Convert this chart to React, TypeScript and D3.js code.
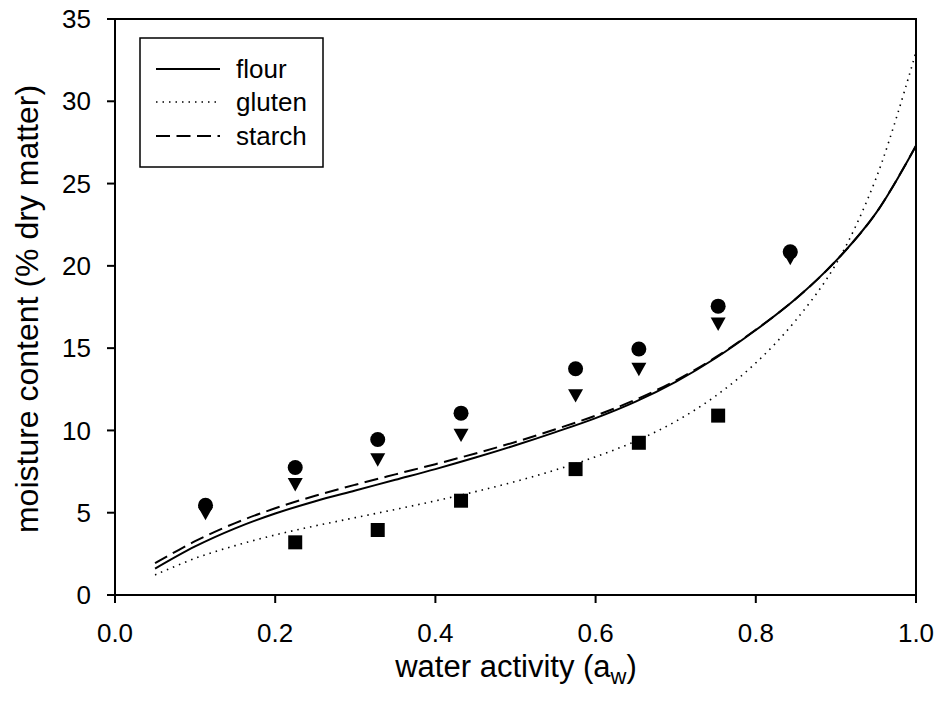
import React from "react";
import * as d3 from "d3";

// ---- data ----
const fitAw = [0.05, 0.10, 0.15, 0.20, 0.25, 0.30, 0.35, 0.40, 0.45, 0.50, 0.55, 0.60, 0.65, 0.70, 0.75, 0.80, 0.85, 0.90, 0.95, 1.00];
const flourFit = [1.6, 2.95, 4.05, 4.95, 5.7, 6.35, 7.0, 7.65, 8.35, 9.1, 9.9, 10.75, 11.75, 12.95, 14.4, 16.1, 18.0, 20.3, 23.2, 27.3];
const glutenFit = [1.22, 2.23, 3.0, 3.65, 4.2, 4.7, 5.2, 5.72, 6.28, 6.9, 7.6, 8.4, 9.35, 10.55, 12.1, 14.1, 16.7, 20.1, 25.3, 33.0];
const starchFit = [1.93, 3.27, 4.37, 5.27, 6.03, 6.7, 7.33, 7.95, 8.6, 9.3, 10.07, 10.9, 11.87, 13.03, 14.45, 16.12, 18.0, 20.3, 23.2, 27.3];

const obsAw = [0.113, 0.225, 0.328, 0.432, 0.575, 0.654, 0.753, 0.843];
const circleObs = [5.45, 7.75, 9.45, 11.05, 13.75, 14.95, 17.55, 20.85];
const triangleObs = [4.95, 6.7, 8.2, 9.7, 12.1, 13.7, 16.45, 20.45];
const squareAw = [0.225, 0.328, 0.432, 0.575, 0.654, 0.753];
const squareObs = [3.2, 3.95, 5.73, 7.65, 9.25, 10.9];

const xTicks = [0, 0.2, 0.4, 0.6, 0.8, 1.0];
const yTicks = [0, 5, 10, 15, 20, 25, 30, 35];

const legendNames = ["flour", "gluten", "starch"];

const FONT = "Arial, 'Liberation Sans', Helvetica, sans-serif";

export default function App() {
  const W = 936, H = 704;
  const x = d3.scaleLinear().domain([0, 1]).range([115, 916]);
  const y = d3.scaleLinear().domain([0, 35]).range([595, 19]);

  const mk = (vals: number[]) =>
    d3.line<number>()
      .x((_, i) => x(fitAw[i]))
      .y((v) => y(v))
      .curve(d3.curveCatmullRom.alpha(0.5))(vals) || "";

  const series = [
    { name: "flour", vals: flourFit, dash: undefined as string | undefined, w: 2 },
    { name: "gluten", vals: glutenFit, dash: "1.5,5", w: 1.6 },
    { name: "starch", vals: starchFit, dash: "14,6.5", w: 2 },
  ];

  const tri = (cx: number, cy: number) =>
    `M${cx - 7.5},${cy - 6.7}L${cx + 7.5},${cy - 6.7}L${cx},${cy + 6.7}Z`;

  const legX0 = 140, legY0 = 38, legX1 = 323, legY1 = 167;
  const legRows = [69, 102, 136];

  return (
    <svg width={W} height={H} style={{ position: "absolute", left: 0, top: 0, background: "#fff" }} fontFamily={FONT}>
      <rect x={0} y={0} width={W} height={H} fill="#fff" />
      <defs>
        <clipPath id="plotclip">
          <rect x={115} y={19} width={801} height={576} />
        </clipPath>
      </defs>

      {/* curves */}
      <g clipPath="url(#plotclip)">
        {series.map((s) => (
          <path key={s.name} d={mk(s.vals)} fill="none" stroke="#000" strokeWidth={s.w} strokeDasharray={s.dash} />
        ))}
      </g>

      {/* markers */}
      {obsAw.map((a, i) => (
        <circle key={"c" + i} cx={x(a)} cy={y(circleObs[i])} r={7.5} fill="#000" />
      ))}
      {obsAw.map((a, i) => (
        <path key={"t" + i} d={tri(x(a), y(triangleObs[i]))} fill="#000" />
      ))}
      {squareAw.map((a, i) => (
        <rect key={"s" + i} x={x(a) - 7} y={y(squareObs[i]) - 7} width={14} height={14} fill="#000" />
      ))}

      {/* frame */}
      <rect x={115} y={19} width={801} height={576} fill="none" stroke="#000" strokeWidth={2} />

      {/* x ticks */}
      {xTicks.map((t) => (
        <g key={"xt" + t}>
          <line x1={x(t)} x2={x(t)} y1={595} y2={603} stroke="#000" strokeWidth={2} />
          <text x={x(t)} y={642} textAnchor="middle" fontSize={26}>{d3.format(".1f")(t)}</text>
        </g>
      ))}
      {/* y ticks */}
      {yTicks.map((t) => (
        <g key={"yt" + t}>
          <line x1={107} x2={115} y1={y(t)} y2={y(t)} stroke="#000" strokeWidth={2} />
          <text x={91} y={y(t)} dy="0.35em" textAnchor="end" fontSize={26}>{t}</text>
        </g>
      ))}

      {/* axis titles */}
      <text x={516} y={677} textAnchor="middle" fontSize={31}>
        <tspan>water activity (a</tspan>
        <tspan dy={7} fontSize={22}>w</tspan>
        <tspan dy={-7}>)</tspan>
      </text>
      <text transform={`translate(38,309) rotate(-90)`} textAnchor="middle" fontSize={32}>
        moisture content (% dry matter)
      </text>

      {/* legend */}
      <rect x={legX0} y={legY0} width={legX1 - legX0} height={legY1 - legY0} fill="#fff" stroke="#000" strokeWidth={1.5} />
      {series.map((s, i) => (
        <g key={"lg" + s.name}>
          <line x1={156} x2={220} y1={legRows[i]} y2={legRows[i]} stroke="#000" strokeWidth={s.w} strokeDasharray={s.dash} />
          <text x={236} y={legRows[i]} dy="0.35em" fontSize={26}>{legendNames[i]}</text>
        </g>
      ))}
    </svg>
  );
}
